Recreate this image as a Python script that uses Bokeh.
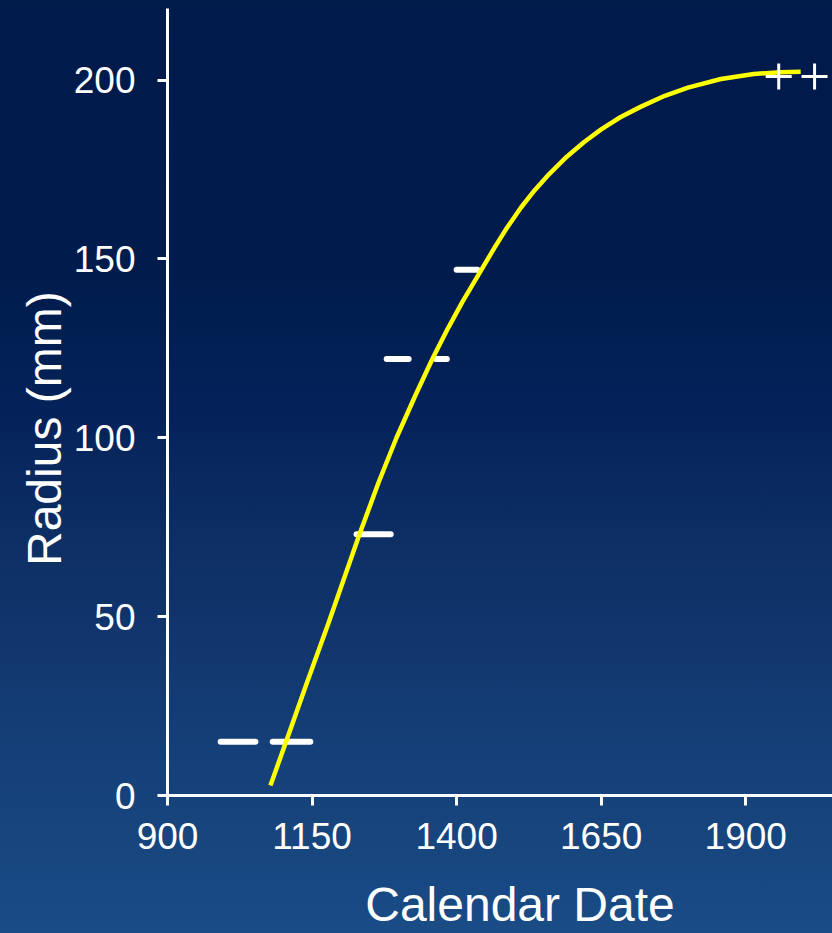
from bokeh.plotting import figure
from bokeh.models import FixedTicker, Range1d, ColumnDataSource
from bokeh.embed import file_html
from bokeh.resources import INLINE

# ---- data ----
curve_date = [1078, 1105, 1140, 1178, 1232, 1265, 1296, 1328, 1358, 1385, 1410,
              1443, 1465, 1485, 1511, 1535, 1557, 1590, 1620, 1650, 1683, 1718,
              1760, 1800, 1857, 1914, 1960, 1995]
curve_radius = [2.8, 15, 31, 48, 73, 87.5, 100, 111.6, 122, 130.6, 138,
                147, 153, 158.2, 164.3, 169.2, 173.2, 178.5, 182.6, 186.2, 189.6, 192.5,
                195.6, 197.9, 200.3, 201.7, 202.2, 202.3]

range_radius = [15, 15, 73, 122, 122, 147]
range_start = [992, 1082, 1227, 1279, 1364, 1400]
range_end = [1052, 1147, 1286, 1317, 1383, 1436]

cross_date = [1957, 2019]
cross_radius = [201, 201]

x_ticks = [900, 1150, 1400, 1650, 1900]
y_ticks = [0, 50, 100, 150, 200]

x_title = "Calendar Date"
y_title = "Radius (mm)"

FONT = "Liberation Sans"
NB = "\u00a0"

p = figure(width=832, height=933, output_backend="svg", toolbar_location=None,
           x_range=Range1d(900, 2050), y_range=Range1d(0, 220),
           min_border_left=167, min_border_right=0, min_border_top=8,
           min_border_bottom=138)

p.border_fill_color = None
p.background_fill_color = None
p.outline_line_color = None
p.styles = {"background": "linear-gradient(180deg, #001a4a 0%, #001c4d 30%, #05235a 45%, "
                          "#0c2e63 57%, #12376e 70%, #153f78 80%, #17457e 90%, #1a4c86 100%)"}
p.grid.visible = False

for ax in (p.xaxis[0], p.yaxis[0]):
    ax.axis_line_color = "white"
    ax.axis_line_width = 3
    ax.major_tick_line_color = "white"
    ax.major_tick_line_width = 3
    ax.major_tick_out = 10
    ax.major_tick_in = 0
    ax.minor_tick_line_color = None
    ax.major_label_text_color = "white"
    ax.major_label_text_font = FONT
    ax.major_label_text_font_size = "37px"
    ax.axis_label_text_color = "white"
    ax.axis_label_text_font = FONT
    ax.axis_label_text_font_size = "48px"
    ax.axis_label_text_font_style = "normal"

p.xaxis[0].ticker = FixedTicker(ticks=x_ticks)
p.yaxis[0].ticker = FixedTicker(ticks=y_ticks)
p.xaxis[0].major_label_standoff = 17
p.yaxis[0].major_label_standoff = 22

# leading / trailing no-break spaces shift the titles to where the reference has them
p.xaxis[0].axis_label = NB * 3 + x_title
p.xaxis[0].axis_label_standoff = 26
p.yaxis[0].axis_label = y_title + NB * 4
p.yaxis[0].axis_label_standoff = 0

seg_src = ColumnDataSource(dict(r=range_radius, s=range_start, e=range_end))
p.segment(x0="s", y0="r", x1="e", y1="r", source=seg_src, line_color="white",
          line_width=6, line_cap="round")

p.line(curve_date, curve_radius, line_color="#ffff00", line_width=4.5,
       line_join="round")

p.scatter(cross_date, cross_radius, marker="cross", size=26, line_color="white",
          line_width=3)

open("out.html", "w").write(file_html(p, INLINE))
